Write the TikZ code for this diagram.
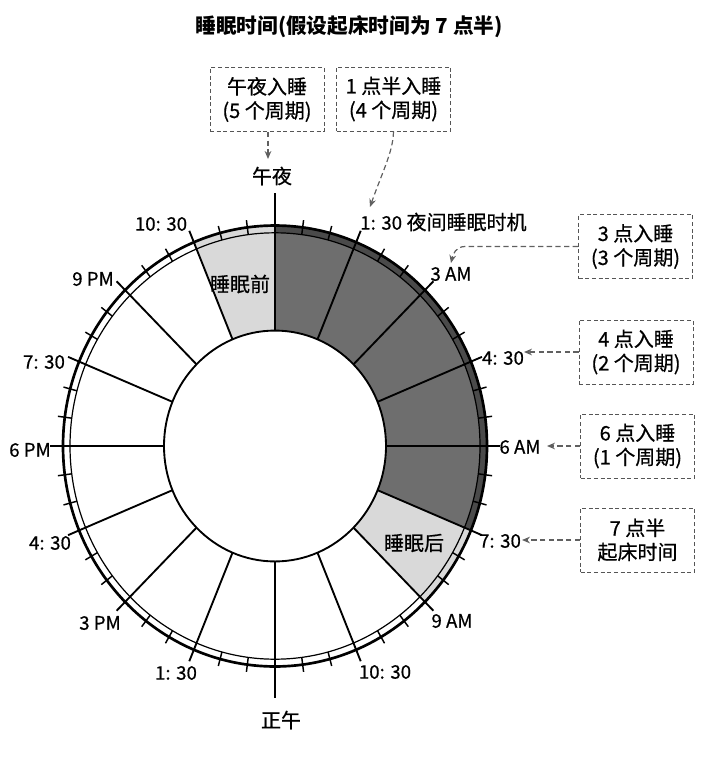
\documentclass[tikz,border=0pt]{standalone}
\usepackage{fontspec}
\setmainfont{Noto Sans CJK SC}
\newfontfamily\lblfont{Noto Sans CJK SC}[FakeBold=0.6]
\usetikzlibrary{arrows.meta}
\definecolor{darkfill}{HTML}{6E6E6E}
\definecolor{darkband}{HTML}{4A4A4A}
\definecolor{lightfill}{HTML}{D9D9D9}
\definecolor{dashgray}{HTML}{555555}
\definecolor{arrgray}{HTML}{606060}
\begin{document}
\begin{tikzpicture}[x=0.75pt,y=-0.75pt,
  numlbl/.style={inner sep=0pt, font=\lblfont\fontsize{14}{16}\selectfont},
  cjklbl/.style={inner sep=0pt, font=\lblfont\fontsize{15}{18}\selectfont},
  notebox/.style={draw=dashgray, line width=0.7pt, dash pattern=on 3pt off 2pt,
     minimum width=85.5pt, minimum height=48pt, inner sep=0pt, align=center,
     font=\lblfont\fontsize{15}{18}\selectfont},
  arr/.style={draw=arrgray, line width=0.9pt, dash pattern=on 4pt off 2.5pt,
     -{Stealth[length=6pt,width=5pt]}},
  spoke/.style={line width=1.4pt},
  minortick/.style={line width=1.1pt},
]
\useasboundingbox (0,0) rectangle (720,761);

% ---------------- clock ----------------
\begin{scope}[shift={(275,446)}, yscale=1.04]
  % before-sleep sector (10:30 PM - midnight)
  \fill[lightfill] (-112.5:111) -- (-112.5:212) arc[start angle=-112.5, end angle=-90, radius=212]
       -- (-90:111) arc[start angle=-90, end angle=-112.5, radius=111] -- cycle;
  % sleep sector (midnight - 7:30 AM)
  \fill[darkfill] (-90:111) -- (-90:212) arc[start angle=-90, end angle=22.5, radius=212]
       -- (22.5:111) arc[start angle=22.5, end angle=-90, radius=111] -- cycle;
  \fill[darkband] (-90:205) -- (-90:212) arc[start angle=-90, end angle=22.5, radius=212]
       -- (22.5:205) arc[start angle=22.5, end angle=-90, radius=205] -- cycle;
  % after-sleep sector (7:30 AM - 9 AM)
  \fill[lightfill] (22.5:111) -- (22.5:212) arc[start angle=22.5, end angle=45, radius=212]
       -- (45:111) arc[start angle=45, end angle=22.5, radius=111] -- cycle;
  % circles
  \draw[line width=1.4pt] (0,0) circle[radius=111];
  \draw[line width=0.9pt] (0,0) circle[radius=205];
  \draw[line width=2pt] (0,0) circle[radius=212];
  % spokes every 1.5 h
  \foreach \k in {1,2,3,5,6,7,9,10,11,13,14,15}
    \draw[spoke] ({\k*22.5-90}:111) -- ({\k*22.5-90}:224);
  \foreach \k in {4,12}
    \draw[line width=1.8pt] ({\k*22.5-90}:111) -- ({\k*22.5-90}:225);
  % midnight and noon
  \draw[line width=2.2pt] (-90:111) -- (-90:243);
  \draw[line width=2.2pt] (90:111) -- (90:242);
  % half-hour ticks
  \foreach \k in {0,...,15}
    \foreach \m in {7.5,15}
      \draw[minortick] ({\k*22.5-90+\m}:205) -- ({\k*22.5-90+\m}:219);
\end{scope}

% ---------------- labels ----------------
\node[font=\bfseries\fontsize{15.5}{18}\selectfont, inner sep=0pt] (title) at (349,27) {睡眠时间(假设起床时间为 7 点半)};

\node[cjklbl] (midnight) at (272,176) {午夜};
\node[cjklbl] (noon) at (281,720) {正午};
\node[cjklbl, anchor=west] (l0130a) at (360,222) {{\fontsize{14}{16}\selectfont 1: 30} 夜间睡眠时机};
\node[numlbl] (l0300) at (451,274) {3 AM};
\node[numlbl] (l0430) at (503,358) {4: 30};
\node[numlbl] (l0600) at (520,447) {6 AM};
\node[numlbl] (l0730) at (500,541) {7: 30};
\node[numlbl] (l0900) at (452,621) {9 AM};
\node[numlbl] (l1030) at (385,672) {10: 30};
\node[numlbl] (l1330) at (176,673) {1: 30};
\node[numlbl] (l1500) at (100,623) {3 PM};
\node[numlbl] (l1630) at (50,543) {4: 30};
\node[numlbl] (l1800) at (30,450) {6 PM};
\node[numlbl] (l1930) at (44,362) {7: 30};
\node[numlbl] (l2100) at (93,279) {9 PM};
\node[numlbl] (l2230) at (161,224) {10: 30};

\node[cjklbl] (before) at (240,284) {睡眠前};
\node[cjklbl] (after) at (414,543) {睡眠后};

% ---------------- boxes ----------------
\node[notebox] (b1) at (267,99.5) {午夜入睡\\(5 个周期)};
\node[notebox] (b2) at (393.5,99) {1 点半入睡\\(4 个周期)};
\node[notebox] (b3) at (635.5,246.5) {3 点入睡\\(3 个周期)};
\node[notebox] (b4) at (636,352) {4 点入睡\\(2 个周期)};
\node[notebox] (b5) at (637.5,446) {6 点入睡\\(1 个周期)};
\node[notebox] (b6) at (637.5,540) {7 点半\\起床时间};

% ---------------- arrows ----------------
\coordinate (t1) at (268,159);
\coordinate (t2) at (370,207);
\coordinate (t3) at (451,263);
\coordinate (t4) at (524,352);
\coordinate (t5) at (547,446);
\coordinate (t6) at (522,540);

\draw[arr] (b1.south -| t1) -- (t1);
\draw[arr] (b2.south) .. controls (393,152) and (383,170) .. (t2);
\draw[arr] (b3.west) -- (465,246.5) .. controls (456,246.5) and (453,254) .. (t3);
\draw[arr] (b4.west) -- (t4);
\draw[arr] (b5.west) -- (t5);
\draw[arr] (b6.west) -- (t6);
\end{tikzpicture}
\end{document}
